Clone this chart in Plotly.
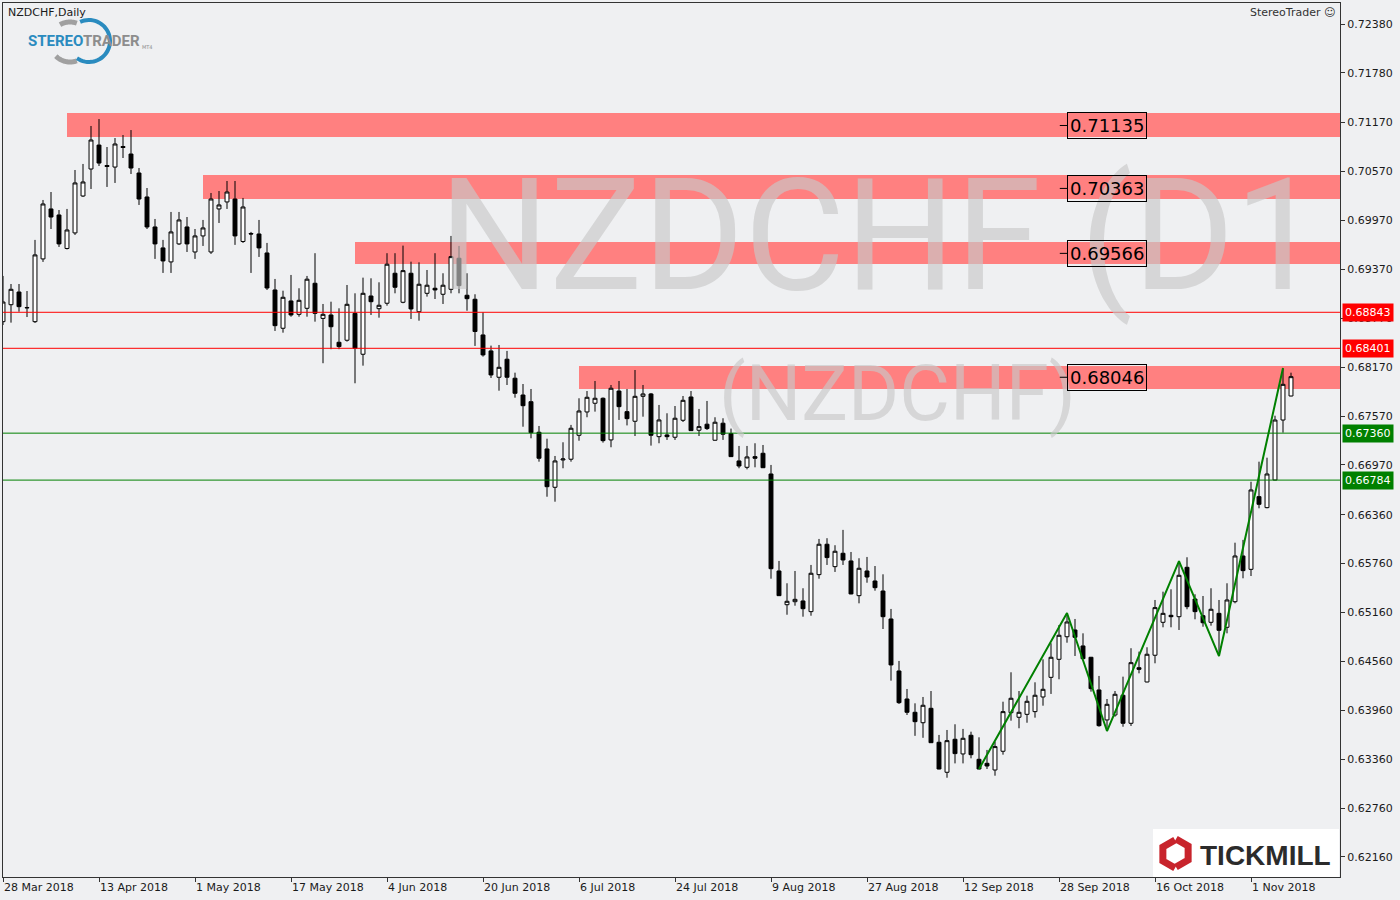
import math
import plotly.graph_objects as go

# ---------------- data ----------------
tick_index = [0, 12, 24, 36, 48, 60, 72, 84, 96, 108, 120, 132, 144, 156]
tick_labels = ["28 Mar 2018", "13 Apr 2018", "1 May 2018", "17 May 2018", "4 Jun 2018",
               "20 Jun 2018", "6 Jul 2018", "24 Jul 2018", "9 Aug 2018", "27 Aug 2018",
               "12 Sep 2018", "28 Sep 2018", "16 Oct 2018", "1 Nov 2018"]
price_ticks = [0.72380, 0.71780, 0.71170, 0.70570, 0.69970, 0.69370, 0.68770, 0.68170,
               0.67570, 0.66970, 0.66360, 0.65760, 0.65160, 0.64560, 0.63960, 0.63360,
               0.62760, 0.62160]

opens = [
    0.68728, 0.68936, 0.69092, 0.68902, 0.68728, 0.69498, 0.70111, 0.70037, 0.69626, 0.69817,
    0.70270, 0.70601, 0.70895, 0.70644, 0.70625, 0.70877, 0.70785, 0.70552, 0.70258, 0.69890,
    0.69633, 0.69461, 0.69682, 0.69890, 0.69583, 0.69780, 0.69583, 0.70111, 0.70197, 0.70233,
    0.69712, 0.69810, 0.69804, 0.69571, 0.69117, 0.68647, 0.68982, 0.68818, 0.68892, 0.69199,
    0.68768, 0.68810, 0.68475, 0.68500, 0.68830, 0.68328, 0.69043, 0.68887, 0.68954, 0.69322,
    0.68966, 0.69322, 0.68850, 0.69076, 0.69138, 0.69064, 0.69125, 0.69506, 0.69052, 0.69003,
    0.68565, 0.68369, 0.68046, 0.68267, 0.68034, 0.67828, 0.67746, 0.67371, 0.67166, 0.66696,
    0.67031, 0.67040, 0.67334, 0.67620, 0.67727, 0.67788, 0.67277, 0.67877, 0.67624, 0.67506,
    0.67812, 0.67841, 0.67317, 0.67338, 0.67310, 0.67518, 0.67804, 0.67396, 0.67470, 0.67273,
    0.67482, 0.67355, 0.67019, 0.66941, 0.67072, 0.67113, 0.66859, 0.65669, 0.65255, 0.65292,
    0.65301, 0.65170, 0.65624, 0.65997, 0.65722, 0.65886, 0.65792, 0.65366, 0.65669, 0.65546,
    0.65423, 0.65080, 0.64442, 0.64098, 0.63935, 0.63807, 0.63984, 0.63567, 0.63199, 0.63604,
    0.63424, 0.63653, 0.63358, 0.63309, 0.63227, 0.63457, 0.63930, 0.63874, 0.63910, 0.63943,
    0.64123, 0.64364, 0.64585, 0.64862, 0.64945, 0.64749, 0.64610, 0.64209, 0.63841, 0.63902,
    0.64144, 0.63800, 0.64482, 0.64307, 0.64635, 0.65039, 0.65125, 0.65108, 0.65714, 0.65325,
    0.65120, 0.65039, 0.65149, 0.64978, 0.65292, 0.65853, 0.65689, 0.66581, 0.66446, 0.66785,
    0.67521, 0.67816]
highs = [
    0.69289, 0.69190, 0.69190, 0.69104, 0.69731, 0.70221, 0.70319, 0.70098, 0.70111, 0.70589,
    0.70663, 0.71129, 0.71214, 0.70871, 0.70981, 0.71018, 0.71079, 0.70613, 0.70368, 0.69988,
    0.69731, 0.70074, 0.70074, 0.70012, 0.69865, 0.69976, 0.70307, 0.70331, 0.70454, 0.70454,
    0.70246, 0.69829, 0.69976, 0.69694, 0.69252, 0.69108, 0.69301, 0.69138, 0.69289, 0.69568,
    0.68945, 0.68973, 0.68892, 0.69178, 0.69076, 0.69268, 0.69260, 0.69211, 0.69568, 0.69568,
    0.69661, 0.69464, 0.69456, 0.69362, 0.69568, 0.69322, 0.69780, 0.69657, 0.69322, 0.69064,
    0.68843, 0.68434, 0.68442, 0.68369, 0.68102, 0.67963, 0.67902, 0.67448, 0.67292, 0.67080,
    0.67248, 0.67461, 0.67788, 0.67877, 0.68000, 0.67798, 0.67951, 0.68000, 0.67902, 0.68135,
    0.67951, 0.67853, 0.67706, 0.67604, 0.67693, 0.67816, 0.67877, 0.67657, 0.67755, 0.67555,
    0.67543, 0.67416, 0.67203, 0.67203, 0.67236, 0.67215, 0.66970, 0.65792, 0.65518, 0.65669,
    0.65457, 0.65743, 0.66062, 0.66071, 0.65985, 0.66173, 0.65902, 0.65825, 0.65841, 0.65730,
    0.65628, 0.65203, 0.64565, 0.64221, 0.64045, 0.64123, 0.64196, 0.63657, 0.63718, 0.63788,
    0.63731, 0.63697, 0.63628, 0.63473, 0.63575, 0.64065, 0.64426, 0.64196, 0.64139, 0.64303,
    0.64585, 0.64782, 0.65006, 0.65141, 0.65080, 0.64904, 0.64614, 0.64381, 0.64098, 0.64196,
    0.64372, 0.64721, 0.64679, 0.64733, 0.65313, 0.65415, 0.65444, 0.65792, 0.65837, 0.65383,
    0.65362, 0.65457, 0.65313, 0.65518, 0.66016, 0.66050, 0.66764, 0.67010, 0.67059, 0.67574,
    0.68155, 0.68102]
lows = [
    0.68687, 0.68716, 0.68850, 0.68785, 0.68712, 0.69461, 0.69865, 0.69645, 0.69614, 0.69792,
    0.70258, 0.70356, 0.70638, 0.70381, 0.70430, 0.70736, 0.70540, 0.70160, 0.69865, 0.69498,
    0.69326, 0.69326, 0.69670, 0.69583, 0.69498, 0.69657, 0.69559, 0.69939, 0.70111, 0.69670,
    0.69694, 0.69326, 0.69522, 0.69117, 0.68614, 0.68593, 0.68789, 0.68789, 0.68789, 0.68728,
    0.68218, 0.68390, 0.68390, 0.68483, 0.67972, 0.68188, 0.68810, 0.68777, 0.68924, 0.69076,
    0.68954, 0.68761, 0.68740, 0.69035, 0.69006, 0.68945, 0.69076, 0.69076, 0.68862, 0.68430,
    0.68299, 0.68037, 0.67881, 0.67951, 0.67795, 0.67439, 0.67297, 0.67010, 0.66580, 0.66519,
    0.66929, 0.67010, 0.67267, 0.67555, 0.67624, 0.67244, 0.67187, 0.67522, 0.67455, 0.67325,
    0.67562, 0.67207, 0.67236, 0.67277, 0.67277, 0.67497, 0.67387, 0.67325, 0.67399, 0.67268,
    0.67277, 0.67068, 0.66929, 0.66916, 0.66941, 0.66932, 0.65574, 0.65362, 0.65132, 0.65243,
    0.65108, 0.65120, 0.65574, 0.65743, 0.65657, 0.65743, 0.65383, 0.65272, 0.65525, 0.65427,
    0.64957, 0.64323, 0.64037, 0.63902, 0.63646, 0.63622, 0.63559, 0.63235, 0.63132, 0.63308,
    0.63308, 0.63370, 0.63235, 0.63239, 0.63157, 0.63415, 0.63832, 0.63739, 0.63807, 0.63869,
    0.64016, 0.64160, 0.64340, 0.64789, 0.64626, 0.64589, 0.64188, 0.63758, 0.63705, 0.63881,
    0.63758, 0.63767, 0.64413, 0.64303, 0.64536, 0.64978, 0.64978, 0.64945, 0.65199, 0.65076,
    0.64985, 0.64998, 0.64626, 0.64904, 0.65272, 0.65579, 0.65607, 0.66438, 0.66438, 0.66781,
    0.67366, 0.67812]
closes = [
    0.68969, 0.69125, 0.68912, 0.68898, 0.69547, 0.70172, 0.70012, 0.69682, 0.69853, 0.70430,
    0.70442, 0.70957, 0.70674, 0.70632, 0.70908, 0.70865, 0.70613, 0.70233, 0.69890, 0.69682,
    0.69473, 0.69829, 0.69976, 0.69682, 0.69780, 0.69878, 0.70233, 0.70160, 0.70319, 0.69780,
    0.70135, 0.69804, 0.69633, 0.69141, 0.68679, 0.69027, 0.68810, 0.68990, 0.69249, 0.68830,
    0.68818, 0.68666, 0.68422, 0.68941, 0.68402, 0.69076, 0.68973, 0.68929, 0.69433, 0.69150,
    0.69354, 0.68884, 0.69187, 0.69175, 0.69117, 0.69175, 0.69526, 0.69170, 0.69010, 0.68607,
    0.68320, 0.68074, 0.68168, 0.68046, 0.67849, 0.67697, 0.67366, 0.67052, 0.66703, 0.67019,
    0.67043, 0.67420, 0.67632, 0.67800, 0.67788, 0.67268, 0.67911, 0.67685, 0.67538, 0.67812,
    0.67841, 0.67334, 0.67522, 0.67317, 0.67543, 0.67763, 0.67391, 0.67440, 0.67416, 0.67494,
    0.67347, 0.67072, 0.66957, 0.67068, 0.67052, 0.66936, 0.65697, 0.65366, 0.65297, 0.65321,
    0.65206, 0.65641, 0.65997, 0.65833, 0.65911, 0.65804, 0.65387, 0.65702, 0.65595, 0.65464,
    0.65108, 0.64516, 0.64053, 0.63935, 0.63820, 0.64021, 0.63562, 0.63239, 0.63587, 0.63428,
    0.63616, 0.63415, 0.63239, 0.63276, 0.63514, 0.63943, 0.64107, 0.63935, 0.64070, 0.64144,
    0.64217, 0.64610, 0.64880, 0.65043, 0.64855, 0.64593, 0.64225, 0.63771, 0.64033, 0.64156,
    0.63800, 0.64544, 0.64462, 0.64647, 0.65219, 0.65149, 0.65108, 0.65616, 0.65231, 0.65170,
    0.65034, 0.65199, 0.64941, 0.65313, 0.65853, 0.65673, 0.66663, 0.66487, 0.66859, 0.67521,
    0.67959, 0.68053]
bar_index = list(range(len(opens)))

zone_labels = [0.71135, 0.70363, 0.69566, 0.68046]
zone_low = [0.70994, 0.70233, 0.69436, 0.67902]
zone_high = [0.71288, 0.70528, 0.69706, 0.68184]
zone_start = [8, 25, 44, 72]
zone_label_at = 132.1

red_levels = [0.68843, 0.68401]
green_levels = [0.67360, 0.66784]

zigzag_index = [122, 133, 138, 147, 152, 160]
zigzag_price = [0.63239, 0.65153, 0.63705, 0.65791, 0.64625, 0.68159]

# ---------------- geometry helpers (layout decoration only) ----------------
W, H = 1400, 900
ML, MR, MT, MB = 3, 60, 3, 23
PW, PH = W - ML - MR, H - MT - MB
X_MAX = PW / 8.0
Y_MIN, Y_MAX = 0.61914, 0.72638


def px(xp):
    return (xp - ML) / PW


def py(yp):
    return (H - MB - yp) / PH


BG = "#eff0f2"
FONT = "DejaVu Sans"
WM = "rgba(200,200,200,0.65)"

fig = go.Figure()

fig.add_trace(go.Candlestick(
    x=bar_index, open=opens, high=highs, low=lows, close=closes,
    increasing=dict(line=dict(color="black", width=1), fillcolor="white"),
    decreasing=dict(line=dict(color="black", width=1), fillcolor="black"),
    whiskerwidth=0, showlegend=False, hoverinfo="skip"))

fig.add_trace(go.Scatter(
    x=zigzag_index, y=zigzag_price, mode="lines",
    line=dict(color="#008000", width=2), showlegend=False, hoverinfo="skip"))

shapes = []
for x0, lo, hi in zip(zone_start, zone_low, zone_high):
    shapes.append(dict(type="rect", xref="x", yref="y", x0=x0, x1=X_MAX + 1,
                       y0=lo, y1=hi, fillcolor="#ff8080", line=dict(width=0),
                       layer="below"))
for lv in red_levels:
    shapes.append(dict(type="line", xref="paper", yref="y", x0=0, x1=1, y0=lv, y1=lv,
                       line=dict(color="#ff0000", width=1), layer="above"))
for lv in green_levels:
    shapes.append(dict(type="line", xref="paper", yref="y", x0=0, x1=1, y0=lv, y1=lv,
                       line=dict(color="#008000", width=1), layer="above"))


def path_from(points, close=False):
    s = "M " + " L ".join(f"{px(a):.5f},{py(b):.5f}" for a, b in points)
    return s + (" Z" if close else "")


def arc(cx, cy, r, a0, a1, n=40):
    pts = []
    for k in range(n + 1):
        a = math.radians(a0 + (a1 - a0) * k / n)
        pts.append((cx + r * math.cos(a), cy - r * math.sin(a)))
    return pts


# StereoTrader logo arcs
shapes.append(dict(type="path", xref="paper", yref="paper",
                   path=path_from(arc(70, 42, 20, 70, 120)),
                   line=dict(color="#a0a0a0", width=5)))
shapes.append(dict(type="path", xref="paper", yref="paper",
                   path=path_from(arc(70, 42, 20, 225, 290)),
                   line=dict(color="#a0a0a0", width=5)))
shapes.append(dict(type="path", xref="paper", yref="paper",
                   path=path_from(arc(89, 41, 21, -125, 115)),
                   line=dict(color="#2a8bbf", width=4)))

# Tickmill logo box
shapes.append(dict(type="rect", xref="paper", yref="paper",
                   x0=px(1153), x1=px(1339), y0=py(877), y1=py(829),
                   fillcolor="white", line=dict(width=0), layer="above"))
hexpts = [(1175 + 14 * math.cos(math.radians(90 + 60 * k)),
           854 - 14 * math.sin(math.radians(90 + 60 * k))) for k in range(7)]
shapes.append(dict(type="path", xref="paper", yref="paper",
                   path=path_from(hexpts[0:4]), line=dict(color="#c8242c", width=7),
                   layer="above"))
hexpts2 = [(1176 + 14 * math.cos(math.radians(90 + 60 * k)),
            853 - 14 * math.sin(math.radians(90 + 60 * k))) for k in range(3, 7)]
shapes.append(dict(type="path", xref="paper", yref="paper",
                   path=path_from(hexpts2), line=dict(color="#c8242c", width=7),
                   layer="above"))

annotations = []
# watermark
annotations.append(dict(text="NZDCHF (D1", xref="paper", yref="paper",
                        x=px(437), y=py(236), xanchor="left", yanchor="middle",
                        showarrow=False,
                        font=dict(family="Roboto", size=155, color=WM)))
annotations.append(dict(text="(NZDCHF)", xref="paper", yref="paper",
                        x=px(897), y=py(393), xanchor="center", yanchor="middle",
                        showarrow=False,
                        font=dict(family="Roboto", size=78, color=WM)))

# zone labels
for lab in zone_labels:
    annotations.append(dict(text=f"{lab:.5f}", x=zone_label_at, y=lab, xref="x", yref="y",
                            showarrow=True, arrowhead=0, arrowwidth=1, arrowcolor="black",
                            ax=47, ay=0, axref="pixel", ayref="pixel",
                            bordercolor="black", borderwidth=1, borderpad=2,
                            font=dict(family=FONT, size=18, color="black")))

# right price labels
for lv in red_levels:
    annotations.append(dict(text=f"{lv:.5f}", x=px(1342), y=lv, xref="paper", yref="y",
                            xanchor="left", yanchor="middle", showarrow=False,
                            bgcolor="#ff0000", borderpad=2,
                            font=dict(family=FONT, size=11, color="white")))
for lv in green_levels:
    annotations.append(dict(text=f"{lv:.5f}", x=px(1342), y=lv, xref="paper", yref="y",
                            xanchor="left", yanchor="middle", showarrow=False,
                            bgcolor="#008000", borderpad=2,
                            font=dict(family=FONT, size=11, color="white")))

# texts
annotations.append(dict(text="NZDCHF,Daily", xref="paper", yref="paper",
                        x=px(6), y=py(12), xanchor="left", yanchor="middle",
                        showarrow=False, font=dict(family=FONT, size=11, color="#1a1a1a")))
annotations.append(dict(text="StereoTrader ☺", xref="paper", yref="paper",
                        x=px(1337), y=py(13), xanchor="right", yanchor="middle",
                        showarrow=False, font=dict(family=FONT, size=11, color="#333333")))
annotations.append(dict(
    text='<b><span style="color:#2a8bbf">STEREO</span><span style="color:#8d8d8d">TRADER</span></b>',
    xref="paper", yref="paper", x=px(26), y=py(41), xanchor="left", yanchor="middle",
    showarrow=False, font=dict(family="Roboto", size=15)))
annotations.append(dict(text="MT4", xref="paper", yref="paper", x=px(140), y=py(47),
                        xanchor="left", yanchor="middle", showarrow=False,
                        font=dict(family=FONT, size=5, color="#8d8d8d")))
annotations.append(dict(text="<b>TICKMILL</b>", xref="paper", yref="paper",
                        x=px(1198), y=py(855), xanchor="left", yanchor="middle",
                        showarrow=False,
                        font=dict(family="Liberation Sans", size=28, color="#2b2b2b")))

fig.update_layout(
    width=W, height=H,
    margin=dict(l=ML, r=MR, t=MT, b=MB),
    paper_bgcolor=BG, plot_bgcolor=BG,
    shapes=shapes, annotations=annotations,
    showlegend=False,
    xaxis=dict(range=[0, X_MAX], rangeslider=dict(visible=False), showgrid=False,
               zeroline=False, tickmode="array", tickvals=tick_index, ticktext=tick_labels,
               ticks="outside", ticklen=4, tickcolor="#333333",
               ticklabelposition="outside right",
               tickfont=dict(family=FONT, size=11, color="#1a1a1a"),
               showline=True, mirror=True, linecolor="#333333", linewidth=1,
               fixedrange=True),
    yaxis=dict(range=[Y_MIN, Y_MAX], side="right", showgrid=False, zeroline=False,
               tickmode="array", tickvals=price_ticks,
               ticktext=[f"{v:.5f}" for v in price_ticks],
               ticks="outside", ticklen=4, tickcolor="#333333",
               tickfont=dict(family=FONT, size=11, color="#1a1a1a"),
               showline=True, mirror=True, linecolor="#333333", linewidth=1,
               fixedrange=True),
)

fig.write_html("out.html", config={"displayModeBar": False},
               post_script="document.body.style.margin='0px';document.body.style.overflow='hidden';")
